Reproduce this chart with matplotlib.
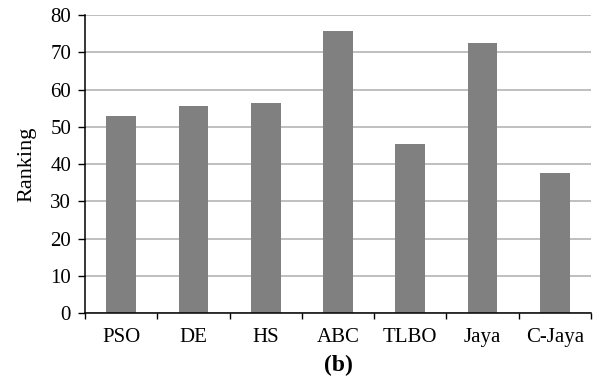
import numpy as np
import matplotlib.pyplot as plt

# ranking per algorithm
algorithms = ["PSO", "DE", "HS", "ABC", "TLBO", "Jaya", "C-Jaya"]
ranking = [52.9, 55.6, 56.4, 75.7, 45.4, 72.5, 37.6]
yticks = [0, 10, 20, 30, 40, 50, 60, 70, 80]

plt.rcParams['font.family'] = ['Liberation Serif', 'DejaVu Serif']

fig = plt.figure(figsize=(5.99, 3.79), dpi=100)
ax = fig.add_axes([0.1419, 0.1741, 0.8447, 0.7863])

x = np.arange(len(algorithms))
ax.bar(x, ranking, width=0.41, color="#808080", zorder=3)

ax.set_xlim(-0.5, len(algorithms) - 0.5)
ax.set_ylim(0, 80)
ax.set_yticks(yticks)
ax.yaxis.grid(True, color="#b4b4b4", linewidth=1.2, zorder=0)

# category labels centred, tick marks at the boundaries
ax.set_xticks(x)
ax.set_xticklabels(algorithms, fontsize=15)
ax.tick_params(axis="x", which="major", length=0, pad=11)
ax.set_xticks(np.arange(len(algorithms) + 1) - 0.5, minor=True)
ax.tick_params(axis="x", which="minor", length=4, width=1, direction="out")
ax.tick_params(axis="y", length=5, width=1, pad=5, labelsize=15)

for side in ["top", "right"]:
    ax.spines[side].set_visible(False)
for side in ["left", "bottom"]:
    ax.spines[side].set_linewidth(1.1)
    ax.spines[side].set_zorder(4)

ax.set_ylabel("Ranking", fontsize=16, labelpad=10)

fig.text(0.565, 0.035, "(b)", ha="center", va="center", fontsize=17, fontweight="bold")

fig.savefig("out.png", dpi=100)
